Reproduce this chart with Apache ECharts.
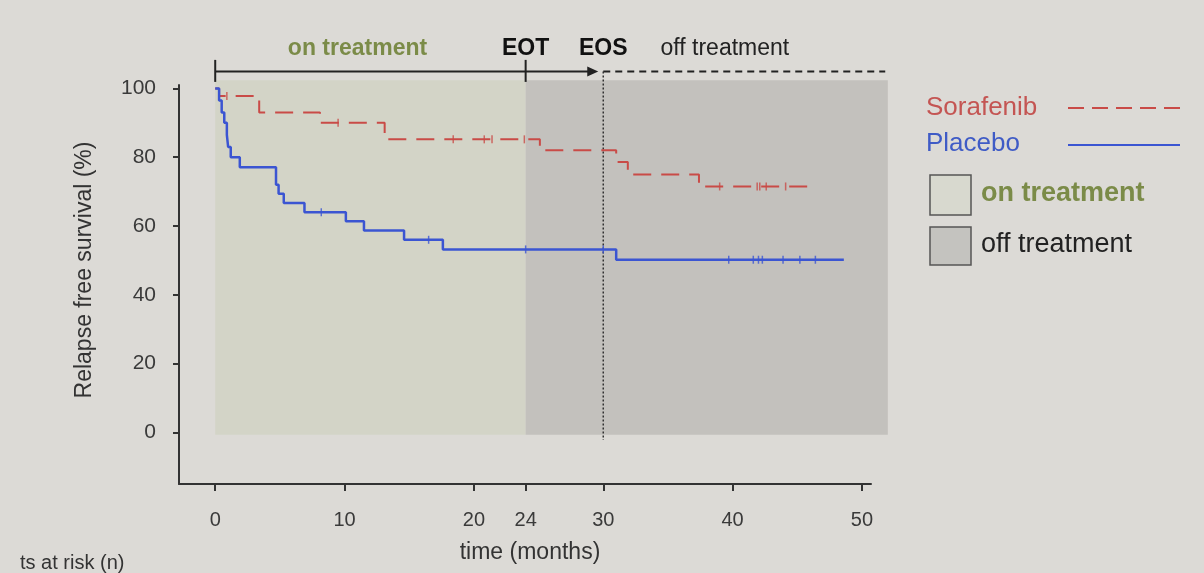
<!DOCTYPE html>
<html>
<head>
<meta charset="utf-8">
<script src="https://cdn.jsdelivr.net/npm/echarts@6/dist/echarts.min.js"></script>
<style>
html,body{margin:0;padding:0;background:#dcdad6;}
#chart{width:1204px;height:573px;}
</style>
</head>
<body>
<div id="chart"></div>
<script>
// ---- data ----
var xTicks = [0, 10, 20, 24, 30, 40, 50];
var yTicks = [0, 20, 40, 60, 80, 100];

var sorafenibTime = [0, 0.3, 3.4, 8.1, 13.1, 25.1, 31.0, 31.9, 37.4, 45.8];
var sorafenibSurv = [100, 97.8, 93.0, 90.0, 85.2, 82.0, 78.6, 75.0, 71.5, 71.5];
var sorafenibCensor = [0.9, 9.5, 18.4, 20.8, 21.4, 23.9, 39.0, 41.9, 42.1, 42.6, 44.1];

var placeboTime = [0, 0.3, 0.5, 0.7, 0.9, 1.0, 1.2, 1.9, 4.7, 4.9, 5.3, 6.9, 10.1, 11.5, 14.6, 17.6, 31.0, 48.6];
var placeboSurv = [100, 96.5, 93.0, 90.0, 86.5, 83.0, 80.0, 77.1, 72.0, 69.4, 66.7, 64.0, 61.4, 58.7, 56.0, 53.2, 50.2, 50.2];
var placeboCensor = [8.2, 16.5, 24.0, 30.0, 39.7, 41.6, 42.0, 42.3, 43.9, 45.2, 46.4];

var regionStart = [0, 24];
var regionEnd = [24, 52];
var regionNames = ['on treatment', 'off treatment'];

var seriesNames = ['Sorafenib', 'Placebo'];

// ---- helpers ----
function zip(a, b) { return a.map(function (v, i) { return [v, b[i]]; }); }
function survAt(times, surv, t) {
  var s = surv[0];
  for (var i = 0; i < times.length; i++) { if (times[i] <= t) s = surv[i]; }
  return s;
}
function censorPts(c, times, surv) { return c.map(function (t) { return [t, survAt(times, surv, t)]; }); }

var RED = '#c94b47', BLUE = '#3b55d2', OLIVE = '#7b8b48';
var ON_FILL = '#d3d4c7', OFF_FILL = '#c3c1bd';
var FONT = '"Liberation Sans", Arial, sans-serif';

var chart = echarts.init(document.getElementById('chart'), null, {renderer: 'canvas'});

var option = {
  backgroundColor: '#dcdad6',
  animation: false,
  grid: {left: 179, top: 85, width: 692, height: 399, outerBoundsMode: 'none', containLabel: false},
  xAxis: {
    type: 'value', min: -2.8, max: 50.7,
    splitLine: {show: false},
    axisLine: {show: true, onZero: false, lineStyle: {color: '#333', width: 2}},
    axisTick: {show: true, customValues: xTicks, length: 7, lineStyle: {color: '#333', width: 2}},
    axisLabel: {customValues: xTicks, margin: 26, color: '#3a3a3a', fontSize: 20, fontFamily: FONT},
    name: 'time (months)', nameLocation: 'middle', nameGap: 57,
    nameTextStyle: {color: '#333', fontSize: 23, fontFamily: FONT, padding: [0, 0, 0, 10]}
  },
  yAxis: {
    type: 'value', min: -15, max: 101,
    splitLine: {show: false},
    axisLine: {show: true, onZero: false, lineStyle: {color: '#333', width: 2}},
    axisTick: {show: true, customValues: yTicks, length: 6, lineStyle: {color: '#333', width: 2}},
    axisLabel: {customValues: yTicks, margin: 23, color: '#3a3a3a', fontSize: 21, fontFamily: FONT}
  },
  series: [
    {
      type: 'custom', name: 'regions', z: 0, silent: true,
      data: regionStart.map(function (s, i) { return [s, regionEnd[i], -0.7, 102.4]; }),
      renderItem: function (params, api) {
        var p0 = api.coord([api.value(0), api.value(3)]);
        var p1 = api.coord([api.value(1), api.value(2)]);
        return {type: 'rect', shape: {x: p0[0], y: p0[1], width: p1[0] - p0[0], height: p1[1] - p0[1]},
          style: {fill: params.dataIndex === 0 ? ON_FILL : OFF_FILL}};
      }
    },
    {
      type: 'custom', name: 'annotations', z: 1, silent: true,
      data: [[0]],
      renderItem: function (params, api) {
        var yl = 104.9, yt = 111.6;
        var a = api.coord([0, yl]), b = api.coord([24, yl]), c = api.coord([30, yl]), d = api.coord([51.8, yl]);
        var capTop = api.coord([0, 108.3])[1], capBot = api.coord([0, 101.9])[1];
        var vBot = api.coord([30, -2.2]);
        var ink = '#222';
        function txt(t, x, bold, color) {
          var p = api.coord([x, yt]);
          return {type: 'text', x: p[0], y: p[1], style: {text: t, fill: color, fontSize: 23, fontWeight: bold ? 'bold' : 'normal',
            fontFamily: FONT, align: 'center', verticalAlign: 'middle'}};
        }
        return {type: 'group', children: [
          {type: 'line', shape: {x1: a[0], y1: a[1], x2: b[0], y2: b[1]}, style: {stroke: ink, lineWidth: 2}},
          {type: 'line', shape: {x1: a[0], y1: capTop, x2: a[0], y2: capBot}, style: {stroke: ink, lineWidth: 2}},
          {type: 'line', shape: {x1: b[0], y1: capTop, x2: b[0], y2: capBot}, style: {stroke: ink, lineWidth: 2}},
          {type: 'line', shape: {x1: b[0], y1: b[1], x2: c[0] - 12, y2: c[1]}, style: {stroke: ink, lineWidth: 2}},
          {type: 'polygon', shape: {points: [[c[0] - 16, c[1] - 5], [c[0] - 5, c[1]], [c[0] - 16, c[1] + 5]]}, style: {fill: ink}},
          {type: 'line', shape: {x1: c[0], y1: c[1], x2: d[0], y2: d[1]}, style: {stroke: ink, lineWidth: 2, lineDash: [7, 5]}},
          {type: 'line', shape: {x1: c[0], y1: c[1], x2: vBot[0], y2: vBot[1]}, style: {stroke: '#333', lineWidth: 1.5, lineDash: [2, 2]}},
          txt('on treatment', 11, true, OLIVE),
          txt('EOT', 24, true, '#111'),
          txt('EOS', 30, true, '#111'),
          txt('off treatment', 39.4, false, '#222')
        ]};
      }
    },
    {
      type: 'line', name: seriesNames[0], step: 'end', showSymbol: false, symbol: 'none', z: 3,
      data: zip(sorafenibTime, sorafenibSurv),
      lineStyle: {color: RED, width: 2, type: [18, 10]}
    },
    {
      type: 'line', name: seriesNames[1], step: 'end', showSymbol: false, symbol: 'none', z: 3,
      data: zip(placeboTime, placeboSurv),
      lineStyle: {color: BLUE, width: 2.5}
    },
    {
      type: 'scatter', name: seriesNames[0] + ' censored', symbol: 'rect', symbolSize: [1.5, 8], z: 4,
      itemStyle: {color: RED}, data: censorPts(sorafenibCensor, sorafenibTime, sorafenibSurv)
    },
    {
      type: 'scatter', name: seriesNames[1] + ' censored', symbol: 'rect', symbolSize: [1.5, 8], z: 4,
      itemStyle: {color: BLUE}, data: censorPts(placeboCensor, placeboTime, placeboSurv)
    }
  ],
  graphic: [
    {type: 'text', x: 85, y: 270, rotation: Math.PI / 2, style: {text: 'Relapse free survival (%)', fill: '#333',
      fontSize: 23, fontFamily: FONT, align: 'center', verticalAlign: 'middle'}},
    {type: 'text', x: 20, y: 563, style: {text: 'ts at risk (n)', fill: '#333', fontSize: 20, fontFamily: FONT, verticalAlign: 'middle'}},
    // legend
    {type: 'text', x: 926, y: 108, style: {text: seriesNames[0], fill: '#c45553', fontSize: 26, fontFamily: FONT, verticalAlign: 'middle'}},
    {type: 'line', shape: {x1: 1068, y1: 108, x2: 1180, y2: 108}, style: {stroke: RED, lineWidth: 2, lineDash: [16, 8]}},
    {type: 'text', x: 926, y: 144, style: {text: seriesNames[1], fill: '#3f5bc6', fontSize: 26, fontFamily: FONT, verticalAlign: 'middle'}},
    {type: 'line', shape: {x1: 1068, y1: 145, x2: 1180, y2: 145}, style: {stroke: BLUE, lineWidth: 2}},
    {type: 'rect', shape: {x: 930, y: 175, width: 41, height: 40}, style: {fill: '#d8d9cf', stroke: '#555', lineWidth: 1.5}},
    {type: 'text', x: 981, y: 194, style: {text: regionNames[0], fill: OLIVE, fontSize: 27, fontWeight: 'bold', fontFamily: FONT, verticalAlign: 'middle'}},
    {type: 'rect', shape: {x: 930, y: 227, width: 41, height: 38}, style: {fill: '#c4c3bf', stroke: '#555', lineWidth: 1.5}},
    {type: 'text', x: 981, y: 245, style: {text: regionNames[1], fill: '#222', fontSize: 27, fontFamily: FONT, verticalAlign: 'middle'}}
  ]
};
chart.setOption(option);
</script>
</body>
</html>
